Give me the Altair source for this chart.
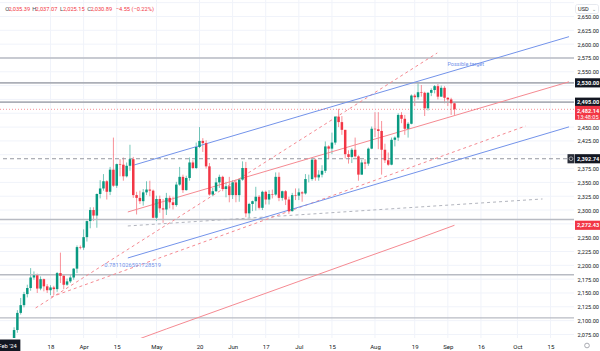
import altair as alt
import pandas as pd
import numpy as np

# ---------------- data (daily XAU/USD candles) ----------------
dates = ["2024-02-28","2024-02-29","2024-03-01","2024-03-04","2024-03-05","2024-03-06","2024-03-07","2024-03-08",
         "2024-03-11","2024-03-12","2024-03-13","2024-03-14","2024-03-15","2024-03-18","2024-03-19","2024-03-20",
         "2024-03-21","2024-03-22","2024-03-25","2024-03-26","2024-03-27","2024-03-28","2024-03-29",
         "2024-04-01","2024-04-02","2024-04-03","2024-04-04","2024-04-05","2024-04-08","2024-04-09","2024-04-10",
         "2024-04-11","2024-04-12","2024-04-15","2024-04-16","2024-04-17","2024-04-18","2024-04-19","2024-04-22",
         "2024-04-23","2024-04-24","2024-04-25","2024-04-26","2024-04-29","2024-04-30","2024-05-01","2024-05-02",
         "2024-05-03","2024-05-06","2024-05-07","2024-05-08","2024-05-09","2024-05-10","2024-05-13","2024-05-14",
         "2024-05-15","2024-05-16","2024-05-17","2024-05-20","2024-05-21","2024-05-22","2024-05-23","2024-05-24",
         "2024-05-27","2024-05-28","2024-05-29","2024-05-30","2024-05-31","2024-06-03","2024-06-04","2024-06-05",
         "2024-06-06","2024-06-07","2024-06-10","2024-06-11","2024-06-12","2024-06-13","2024-06-14","2024-06-17",
         "2024-06-18","2024-06-19","2024-06-20","2024-06-21","2024-06-24","2024-06-25","2024-06-26","2024-06-27",
         "2024-06-28","2024-07-01","2024-07-02","2024-07-03","2024-07-04","2024-07-05","2024-07-08","2024-07-09",
         "2024-07-10","2024-07-11","2024-07-12","2024-07-15","2024-07-16","2024-07-17","2024-07-18","2024-07-19",
         "2024-07-22","2024-07-23","2024-07-24","2024-07-25","2024-07-26","2024-07-29","2024-07-30","2024-07-31",
         "2024-08-01","2024-08-02","2024-08-05","2024-08-06","2024-08-07","2024-08-08","2024-08-09","2024-08-12",
         "2024-08-13","2024-08-14","2024-08-15","2024-08-16","2024-08-19","2024-08-20","2024-08-21","2024-08-22",
         "2024-08-23","2024-08-26","2024-08-27","2024-08-28","2024-08-29","2024-08-30","2024-09-02","2024-09-03",
         "2024-09-04"]
opens = [2035.39,2030.9,2044,2083,2114,2128,2148,2159,
         2178,2182,2158,2175,2162,2155,2160,2157,
         2186,2181,2165,2171,2178,2194,2233,
         2232,2251,2280,2300,2290,2329,2339,2352,
         2333,2373,2344,2383,2382,2361,2380,2392,
         2327,2322,2316,2332,2337,2335,2286,2320,
         2303,2301,2322,2314,2309,2346,2360,2336,
         2358,2386,2376,2414,2425,2421,2379,2328,
         2334,2350,2360,2338,2343,2327,2350,2327,
         2355,2376,2294,2311,2316,2324,2304,2333,
         2319,2329,2328,2360,2322,2334,2319,2298,
         2327,2326,2332,2330,2356,2356,2391,2359,
         2364,2371,2415,2411,2422,2469,2459,2445,
         2401,2396,2409,2397,2364,2386,2384,2411,
         2447,2446,2443,2409,2390,2382,2427,2431,
         2472,2465,2447,2456,2507,2504,2513,2512,
         2484,2512,2517,2524,2505,2521,2503,2500,
         2493]
highs = [2037.07,2052,2088,2119,2141,2152,2165,2195,
         2189,2185,2180,2176,2166,2164,2163,2188,
         2223,2182,2176,2184,2195,2236,2236,
         2265,2281,2305,2305,2330,2354,2365,2354,
         2378,2431,2384,2392,2395,2386,2418,2396,
         2333,2335,2338,2352,2353,2337,2326,2326,
         2320,2331,2326,2324,2351,2378,2364,2362,
         2395,2390,2422,2450,2430,2426,2385,2340,
         2358,2364,2362,2351,2360,2354,2355,2357,
         2388,2387,2313,2317,2342,2327,2335,2335,
         2336,2337,2368,2368,2335,2336,2324,2331,
         2339,2339,2334,2365,2364,2392,2393,2372,
         2381,2424,2417,2440,2469,2483,2470,2445,
         2408,2412,2431,2399,2391,2392,2413,2451,
         2477,2477,2461,2420,2404,2431,2433,2475,
         2477,2472,2459,2509,2510,2531,2526,2514,
         2513,2520,2526,2528,2525,2524,2504,2503,
         2495]
lows = [2025.15,2024,2038,2078,2111,2124,2142,2154,
        2174,2150,2155,2153,2150,2146,2146,2152,
        2168,2157,2163,2168,2174,2186,2229,
        2228,2243,2267,2280,2268,2321,2335,2319,
        2327,2342,2340,2361,2353,2359,2371,2322,
        2292,2311,2308,2327,2325,2285,2280,2295,
        2277,2291,2303,2301,2306,2344,2331,2335,
        2353,2374,2374,2412,2405,2375,2326,2325,
        2333,2340,2334,2323,2314,2320,2314,2315,
        2353,2287,2286,2298,2299,2301,2300,2310,
        2310,2321,2326,2316,2317,2309,2293,2297,
        2318,2318,2315,2328,2350,2353,2353,2353,
        2359,2367,2392,2401,2418,2450,2436,2393,
        2384,2385,2395,2353,2364,2374,2380,2410,
        2432,2410,2364,2385,2380,2381,2415,2425,
        2457,2436,2431,2455,2488,2500,2505,2470,
        2480,2506,2511,2500,2505,2493,2488,2472,
        2472]
closes = [2030.89,2044,2083,2114,2128,2148,2159,2178,
          2182,2158,2175,2162,2155,2160,2157,2186,
          2181,2165,2171,2178,2194,2233,2232,
          2251,2280,2300,2290,2329,2339,2352,2333,
          2373,2344,2383,2382,2361,2380,2392,2327,
          2322,2316,2332,2337,2335,2286,2320,2303,
          2301,2322,2314,2309,2346,2360,2336,2358,
          2386,2376,2414,2425,2421,2379,2328,2334,
          2350,2360,2338,2343,2327,2350,2327,2355,
          2376,2294,2311,2316,2324,2304,2333,2319,
          2329,2328,2360,2322,2334,2319,2298,2327,
          2326,2332,2330,2356,2356,2391,2359,2364,
          2371,2415,2411,2422,2469,2459,2445,2401,
          2396,2409,2397,2364,2386,2384,2411,2447,
          2446,2443,2409,2390,2382,2427,2431,2472,
          2465,2447,2456,2507,2504,2513,2512,2484,
          2512,2517,2524,2505,2521,2503,2500,2493,
          2482.14]

# time-axis ticks (trading-day index relative to 2024-04-01)
tick_dates = ["2024-03-18","2024-04-01","2024-04-15","2024-05-01","2024-05-20","2024-06-03","2024-06-17",
              "2024-07-01","2024-07-15","2024-08-01","2024-08-19","2024-09-02","2024-09-16","2024-10-01","2024-10-15"]
tick_labels = ["18","Apr","15","May","20","Jun","17","Jul","15","Aug","19","Sep","16","Oct","15"]

# price-axis labels shown (others hidden behind the level tags)
price_ticks = [2075,2100,2125,2150,2175,2200,2225,2250,2300,2325,2350,2375,2425,2450,2550,2575,2600,2625,2650]
grid_ticks = list(range(2075, 2676, 25))

# horizontal drawn levels
levels_thick = [2530.0, 2495.0]
levels_thin = [2575.0, 2283.0, 2183.0, 2105.0]
last_price = 2482.14
cross_price = 2392.74
sma_last = 2272.43

# trend / channel drawings (trading-day index, price)
blue_x1 = [15.3, 13.35]
blue_p1 = [2381.5, 2213.3]
blue_x2 = [146.6, 146.6]
blue_p2 = [2613.5, 2450.4]
red_x1 = [13.35]
red_p1 = [2296.5]
red_x2 = [146.6]
red_p2 = [2531.9]
rdash_x1 = [-14.5, -9.8]
rdash_p1 = [2122.9, 2142.8]
rdash_x2 = [106.8, 133.5]
rdash_p2 = [2584.0, 2452.0]
gdash_x1 = [13.35]
gdash_p1 = [2271.2]
gdash_x2 = [138.6]
gdash_p2 = [2320.0]

# 200-day moving average, read at a few points
sma_idx = [-5, 10, 25, 45, 65, 85, 100, 112]
sma_val = [2020, 2052, 2085, 2128, 2171, 2214, 2246, 2272.43]

# ---------------- build ----------------
W, H = 574, 338
X_DOM = [-23.74, 146.59]
Y_DOM = [2068.6, 2679.8]
GREEN, RED = "#089981", "#f23645"
BLUE_L, RED_L = "#7393ea", "#f58a92"
FONT = "Roboto"

def bidx(ds):
    return np.busday_count(np.datetime64("2024-04-01"), np.array(ds, dtype="datetime64[D]"))

df = pd.DataFrame(dict(date=dates, o=opens, h=highs, l=lows, c=closes))
df["i"] = bidx(df["date"].tolist())
df["dir"] = np.where(df["c"] >= df["o"], "up", "down")

tick_idx = [int(v) for v in bidx(tick_dates)]
label_expr = "[" + ",".join("'%s'" % t for t in tick_labels) + "][indexof([" + \
    ",".join(str(v) for v in tick_idx) + "], datum.value)]"

xs = alt.Scale(domain=X_DOM, nice=False, zero=False)
ys = alt.Scale(domain=Y_DOM, nice=False, zero=False)

def X(f):
    return alt.X(f, scale=xs, axis=None)

def Y(f):
    return alt.Y(f, scale=ys, axis=None)

# grid layers (drawn as data rules at tick values)
vgrid = alt.Chart(pd.DataFrame({"i": tick_idx})).mark_rule(color="#f0f3fa", strokeWidth=1).encode(x=X("i:Q"))
hgrid = alt.Chart(pd.DataFrame({"p": grid_ticks})).mark_rule(color="#f0f3fa", strokeWidth=1, clip=True).encode(
    y=Y("p:Q"))

# axes carried by an invisible layer
xaxis = alt.Axis(values=tick_idx, labelExpr=label_expr, title=None, domain=False, ticks=False,
                 grid=False, labelFontSize=6, labelColor="#131722",
                 labelPadding=5, labelFont=FONT, labelOverlap=False, labelFlush=False)
yaxis = alt.Axis(orient="right", values=price_ticks, format=",.2f", title=None, domain=False, ticks=False,
                 grid=False, labelFontSize=5.6, labelColor="#131722",
                 labelPadding=3, labelFont=FONT, labelOverlap=False, labelFlush=False)
axes = alt.Chart(pd.DataFrame({"i": [0], "p": [2400]})).mark_point(opacity=0).encode(
    x=alt.X("i:Q", scale=xs, axis=xaxis), y=alt.Y("p:Q", scale=ys, axis=yaxis))

col = alt.Color("dir:N", scale=alt.Scale(domain=["up", "down"], range=[GREEN, RED]), legend=None)
base = alt.Chart(df)
wicks = base.mark_rule(strokeWidth=1, opacity=0.55, clip=True).encode(
    x=X("i:Q"), y=Y("l:Q"), y2="h:Q", color=col)
bodies = base.mark_bar(size=2.5, clip=True).encode(
    x=X("i:Q"), y=Y("o:Q"), y2="c:Q", color=col)

def hlines(vals, **kw):
    return alt.Chart(pd.DataFrame({"p": vals})).mark_rule(clip=True, **kw).encode(y=Y("p:Q"))

lv_thick = hlines(levels_thick, color="#acafb7", strokeWidth=1.8)
lv_thin = hlines(levels_thin, color="#b8bbc3", strokeWidth=1.4)
lv_last = hlines([last_price], color=RED, strokeWidth=1, strokeDash=[1, 2], opacity=0.55)
lv_cross = hlines([cross_price], color="#9598a1", strokeWidth=1, strokeDash=[4, 3])

def segs(x1, p1, x2, p2, **kw):
    d = pd.DataFrame(dict(x1=x1, p1=p1, x2=x2, p2=p2))
    return alt.Chart(d).mark_rule(clip=True, **kw).encode(
        x=X("x1:Q"), y=Y("p1:Q"), x2="x2:Q", y2="p2:Q")

blue = segs(blue_x1, blue_p1, blue_x2, blue_p2, color=BLUE_L, strokeWidth=1)
redl = segs(red_x1, red_p1, red_x2, red_p2, color=RED_L, strokeWidth=1)
rdash = segs(rdash_x1, rdash_p1, rdash_x2, rdash_p2, color=RED_L, strokeWidth=1, strokeDash=[3, 3])
gdash = segs(gdash_x1, gdash_p1, gdash_x2, gdash_p2, color="#b2b5be", strokeWidth=1, strokeDash=[3, 3])

sma = alt.Chart(pd.DataFrame(dict(i=sma_idx, v=sma_val))).mark_line(
    clip=True, color=RED_L, strokeWidth=1).encode(x=X("i:Q"), y=Y("v:Q"))

# annotations
note_c = alt.Chart(pd.DataFrame(dict(i=[115.4], p=[2564.0], t=["Possible target"]))).mark_text(
    fontSize=5.5, color=BLUE_L, font=FONT, align="center").encode(x=X("i:Q"), y=Y("p:Q"), text="t:N")
note_l = alt.Chart(pd.DataFrame(dict(i=[6.2], p=[2200.6], t=["0.7811026591728519"]))).mark_text(
    fontSize=5.8, color=BLUE_L, font=FONT, align="left").encode(x=X("i:Q"), y=Y("p:Q"), text="t:N")

# price tags on the right scale
tags = pd.DataFrame(dict(p=[2530.0, 2495.0, cross_price, sma_last],
                         t=["2,530.00", "2,495.00", "2,392.74", "2,272.43"],
                         fill=["#131722", "#131722", "#131722", RED]))
tag_box = alt.Chart(tags).transform_calculate(top="datum.p + 8.3", bot="datum.p - 8.3").mark_rect().encode(
    x=alt.value(575), x2=alt.value(600), y=Y("top:Q"), y2="bot:Q",
    color=alt.Color("fill:N", scale=None))
tag_txt = alt.Chart(tags).mark_text(align="left", baseline="middle", fontSize=5.6, color="white",
                                    fontWeight="bold", font=FONT).encode(
    x=alt.value(577), y=Y("p:Q"), text="t:N")
cross_icon = alt.Chart(pd.DataFrame({"p": [cross_price]})).transform_calculate(
    top="datum.p + 8.3", bot="datum.p - 8.3").mark_rect(color="#2a2e39").encode(
    x=alt.value(567.5), x2=alt.value(574.5), y=Y("top:Q"), y2="bot:Q")
cross_ring = alt.Chart(pd.DataFrame({"p": [cross_price]})).mark_point(
    shape="circle", size=14, color="white", strokeWidth=0.8).encode(x=alt.value(571), y=Y("p:Q"))

last_df = pd.DataFrame(dict(p=[last_price], t1=["2,482.14"], t2=["13:48:05"]))
last_box = alt.Chart(last_df).transform_calculate(top="datum.p + 6.3", bot="datum.p - 19.0").mark_rect(
    color=RED).encode(x=alt.value(575), x2=alt.value(600), y=Y("top:Q"), y2="bot:Q")
last_t1 = alt.Chart(last_df).mark_text(align="left", baseline="middle", fontSize=5.6, color="white",
                                       fontWeight="bold", font=FONT, dy=1.5).encode(
    x=alt.value(577), y=Y("p:Q"), text="t1:N")
last_t2 = alt.Chart(last_df).mark_text(align="left", baseline="middle", fontSize=5.6, color="white",
                                       font=FONT, dy=7.5).encode(
    x=alt.value(577), y=Y("p:Q"), text="t2:N")

# USD box at top of price scale
usd_box = alt.Chart(pd.DataFrame({"a": [1]})).mark_rect(fill="white", stroke="#e0e3eb", strokeWidth=0.8,
                                                       cornerRadius=2).encode(
    x=alt.value(575.5), x2=alt.value(598.5), y=alt.value(4.5), y2=alt.value(13.5))
usd_txt = alt.Chart(pd.DataFrame({"t": ["USD"]})).mark_text(align="left", baseline="middle", fontSize=5.6,
                                                            color="#131722", font=FONT).encode(
    x=alt.value(578), y=alt.value(9), text="t:N")
usd_arrow = alt.Chart(pd.DataFrame({"t": ["\u2304"]})).mark_text(align="left", baseline="middle", fontSize=5,
                                                                 color="#787b86", font="DejaVu Sans").encode(
    x=alt.value(592), y=alt.value(8.5), text="t:N")

# crosshair date tag on the time scale
cross_date = pd.DataFrame(dict(i=[int(bidx(["2024-02-28"])[0])], t=["Feb '24"]))
date_box = alt.Chart(cross_date).transform_calculate(a="datum.i - 3.9", b="datum.i + 3.9").mark_rect(
    color="#131722").encode(x=X("a:Q"), x2="b:Q", y=alt.value(339.5), y2=alt.value(351))
date_txt = alt.Chart(cross_date).mark_text(fontSize=5.8, color="white", font=FONT, baseline="middle").encode(
    x=X("i:Q"), y=alt.value(345.5), text="t:N")

# settings gear
gear = alt.Chart(pd.DataFrame({"a": [1]})).mark_point(shape="circle", size=22, color="#787b86",
                                                     strokeWidth=0.9).encode(x=alt.value(587), y=alt.value(345.5))

# OHLC header
hdr_x = [5.3, 8.4, 32.3, 35.6, 60.0, 62.9, 87.3, 90.4, 115.7]
hdr_t = ["O", "2,035.39", "H", "2,037.07", "L", "2,025.15", "C", "2,030.89", "\u22124.55 (\u22120.22%)"]
hdr_c = ["#4a4e59", RED, "#4a4e59", RED, "#4a4e59", RED, "#4a4e59", RED, RED]
hdr = alt.Chart(pd.DataFrame(dict(x=hdr_x, t=hdr_t, c=hdr_c))).mark_text(
    align="left", baseline="middle", fontSize=5.7, font=FONT).encode(
    x=alt.X("x:Q", scale=None), y=alt.value(8.5), text="t:N", color=alt.Color("c:N", scale=None))

chart = alt.layer(
    axes, vgrid, hgrid, wicks, lv_thin, lv_thick, lv_cross, gdash, sma, rdash, redl, blue, lv_last, bodies,
    note_c, note_l, tag_box, tag_txt, cross_icon, cross_ring, last_box, last_t1, last_t2,
    usd_box, usd_txt, usd_arrow, date_box, date_txt, gear, hdr
).resolve_axis(x="independent", y="independent").properties(
    width=W, height=H, autosize="none",
    padding={"left": 0, "top": 0, "right": 26, "bottom": 13},
    background="white"
).configure_view(stroke=None).configure_axis(labelOverlap=False)

chart.save("out.html", embed_options={"renderer": "svg", "actions": False})
